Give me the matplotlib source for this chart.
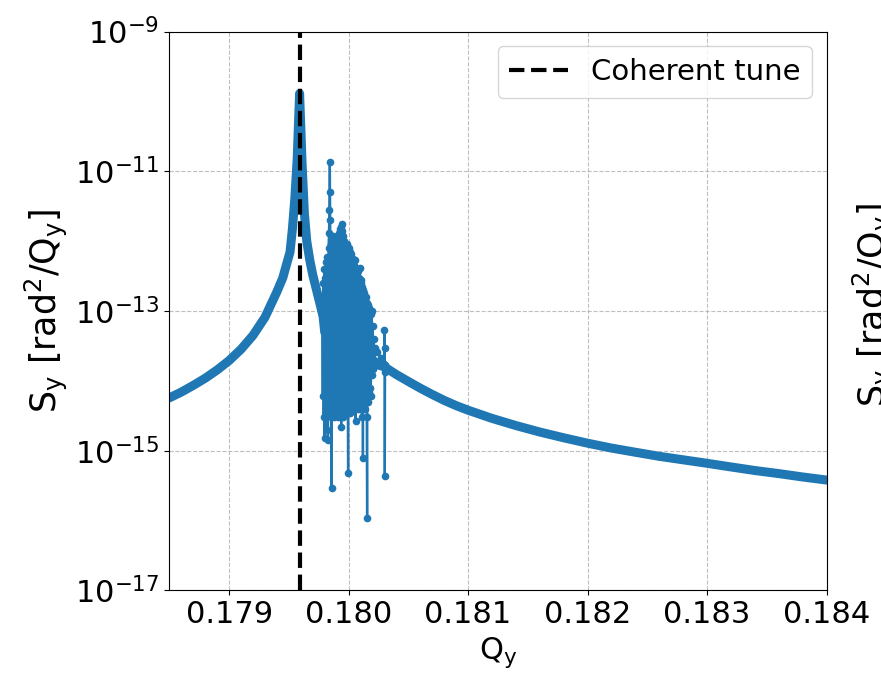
import matplotlib
matplotlib.use("Agg")
import matplotlib.pyplot as plt
from matplotlib.ticker import FixedLocator, NullLocator

# smooth part of the spectrum
q_smooth = [0.17850, 0.17860, 0.17870, 0.17880, 0.17890, 0.17900, 0.17910,
            0.17920, 0.17930, 0.17940, 0.17945, 0.17947, 0.17951, 0.17953,
            0.17955, 0.17957, 0.17958, 0.17959, 0.17960, 0.17961, 0.17963,
            0.17965, 0.179675, 0.17970, 0.17975, 0.179787, 0.17980, 0.17990,
            0.18010, 0.18030, 0.18040, 0.18050, 0.18060, 0.18070, 0.18080,
            0.18090, 0.18100, 0.18120, 0.18140, 0.18160, 0.18180, 0.18200,
            0.18220, 0.18240, 0.18260, 0.18280, 0.18300, 0.18320, 0.18340,
            0.18360, 0.18380, 0.18400]
S_smooth = [5.7e-15, 6.9e-15, 8.6e-15, 1.09e-14, 1.43e-14, 1.95e-14, 2.83e-14,
            4.47e-14, 8.1e-14, 1.88e-13, 3.0e-13, 4.0e-13, 7.0e-13, 1.5e-12,
            4.0e-12, 1.5e-11, 4.4e-11, 1.3e-10, 4.4e-11, 1.4e-11, 2.5e-12,
            1.0e-12, 5.4e-13, 3.3e-13, 1.5e-13, 8.3e-14, 5.0e-14, 3.0e-14,
            2.0e-14, 1.585e-14, 1.23e-14, 9.8e-15, 7.85e-15, 6.38e-15, 5.25e-15,
            4.42e-15, 3.8e-15, 2.9e-15, 2.29e-15, 1.85e-15, 1.53e-15, 1.28e-15,
            1.09e-15, 9.5e-16, 8.3e-16, 7.4e-16, 6.6e-16, 5.85e-16, 5.2e-16,
            4.7e-16, 4.2e-16, 3.8e-16]

# noisy part between 0.1798 and 0.1803
q_noise = [0.179780, 0.179784, 0.179788, 0.179792, 0.179796, 0.179800, 0.179804,
           0.179808, 0.179812, 0.179816, 0.179820, 0.179824, 0.179828, 0.179832,
           0.179836, 0.179839, 0.179841, 0.179843, 0.179846, 0.179850, 0.179854,
           0.179858, 0.179862, 0.179866, 0.179870, 0.179874, 0.179878, 0.179882,
           0.179886, 0.179890, 0.179894, 0.179898, 0.179902, 0.179906, 0.179910,
           0.179914, 0.179918, 0.179922, 0.179926, 0.179930, 0.179934, 0.179938,
           0.179941, 0.179945, 0.179949, 0.179953, 0.179957, 0.179961, 0.179965,
           0.179969, 0.179973, 0.179977, 0.179981, 0.179985, 0.179989, 0.179993,
           0.179996, 0.180000, 0.180004, 0.180008, 0.180012, 0.180016, 0.180020,
           0.180024, 0.180028, 0.180032, 0.180036, 0.180040, 0.180044, 0.180048,
           0.180052, 0.180056, 0.180060, 0.180064, 0.180068, 0.180072, 0.180076,
           0.180080, 0.180084, 0.180088, 0.180092, 0.180096, 0.180100, 0.180104,
           0.180108, 0.180112, 0.180116, 0.180120, 0.180124, 0.180128, 0.180132,
           0.180136, 0.180140, 0.180144, 0.180148, 0.180152, 0.180155, 0.180158,
           0.180162, 0.180166, 0.180170, 0.180174, 0.180178, 0.180182, 0.180186,
           0.180190, 0.180194, 0.180198, 0.180202, 0.180206, 0.180210, 0.180215,
           0.180220, 0.180240, 0.180270, 0.180298, 0.180300, 0.180301, 0.180302,
           0.180303, 0.180305, 0.180317]
S_noise = [1.0e-13, 6e-15, 2.5e-13, 3e-15, 4e-13, 1.5e-15, 3e-13,
           5e-15, 5e-13, 2e-15, 6e-13, 4e-15, 1.4e-15, 8e-13,
           1.3e-12, 2.8e-12, 5.1e-12, 1.38e-11, 2.0e-12, 3e-15, 9e-13,
           2.9e-16, 1.0e-12, 5e-15, 1.2e-12, 3e-15, 8e-13, 6e-15,
           1.1e-12, 4e-15, 9e-13, 3.5e-15, 1.2e-12, 5e-15, 1.0e-12,
           3e-15, 1.3e-12, 4e-15, 1.5e-12, 6e-15, 1.6e-12, 2.2e-15,
           1.74e-12, 5e-15, 1.4e-12, 3e-15, 1.2e-12, 4.5e-15, 1.0e-12,
           3.5e-15, 9e-13, 5e-15, 8e-13, 4e-15, 9e-13, 6e-15,
           4.8e-16, 8e-13, 5e-15, 7e-13, 3.5e-15, 6e-13, 5e-15,
           6.5e-13, 4e-15, 5e-13, 6e-15, 5.5e-13, 4e-15, 4.5e-13,
           5.4e-13, 5e-15, 2.7e-15, 4e-13, 6e-15, 3.5e-13, 4e-15,
           3.8e-13, 5e-15, 3e-13, 4.1e-13, 4e-15, 2.8e-13, 6e-15,
           2.5e-13, 3e-15, 2.2e-13, 7.8e-16, 2e-13, 5e-15, 1.8e-13,
           4e-15, 1.6e-13, 6e-15, 1.6e-13, 3e-15, 1.1e-16, 1.3e-13,
           5e-15, 1.2e-13, 7e-15, 1.1e-13, 8e-15, 1.0e-13, 6e-15,
           9e-14, 1.0e-13, 1.2e-14, 6e-14, 1.5e-14, 4e-14, 2e-14,
           3e-14, 2.6e-14, 2.1e-14, 1.75e-14, 5.4e-14, 2.95e-14, 1.35e-14,
           4.3e-16, 1.7e-14, 1.6e-14]

q_coherent = 0.17959

xticks = [0.179, 0.180, 0.181, 0.182, 0.183, 0.184]
yticks = [1e-17, 1e-15, 1e-13, 1e-11, 1e-9]

fs = 22
fs_ylab = 25
blue = '#1f77b4'

fig = plt.figure(figsize=(8.81, 6.78), dpi=100)
ax = fig.add_axes([169.3/881, 1-590.4/678, (826.7-169.3)/881, (590.4-31.6)/678])

ax.plot(q_smooth, S_smooth, color=blue, lw=6.5, solid_capstyle='round',
        solid_joinstyle='round')
ax.plot(q_noise, S_noise, color=blue, lw=1.7, marker='o', ms=4.5)
ax.axvline(q_coherent, color='k', ls='--', lw=3, label='Coherent tune')

ax.set_yscale('log')
ax.set_xlim(0.1785, 0.184)
ax.set_ylim(1e-17, 1e-9)
ax.xaxis.set_major_locator(FixedLocator(xticks))
ax.yaxis.set_major_locator(FixedLocator(yticks))
ax.yaxis.set_minor_locator(NullLocator())
ax.set_xticklabels(['%.3f' % t for t in xticks])
ax.tick_params(labelsize=fs)
ax.grid(True, ls='--', color='#b0b0b0', lw=0.8, alpha=0.8)

ax.set_xlabel(r'$\mathrm{Q_y}$', fontsize=fs)
ax.set_ylabel(r'$\mathrm{S_y\ [rad^2/Q_y]}$', fontsize=fs_ylab)
ax.legend(loc='upper right', fontsize=21)

# ylabel of the neighbouring panel, cut by the figure edge
fig.text(851/881, 1-305/678, r'$\mathrm{S_y\ [rad^2/Q_y]}$', fontsize=fs_ylab,
         rotation=90, ha='left', va='center')

fig.savefig('out.png', dpi=100)
